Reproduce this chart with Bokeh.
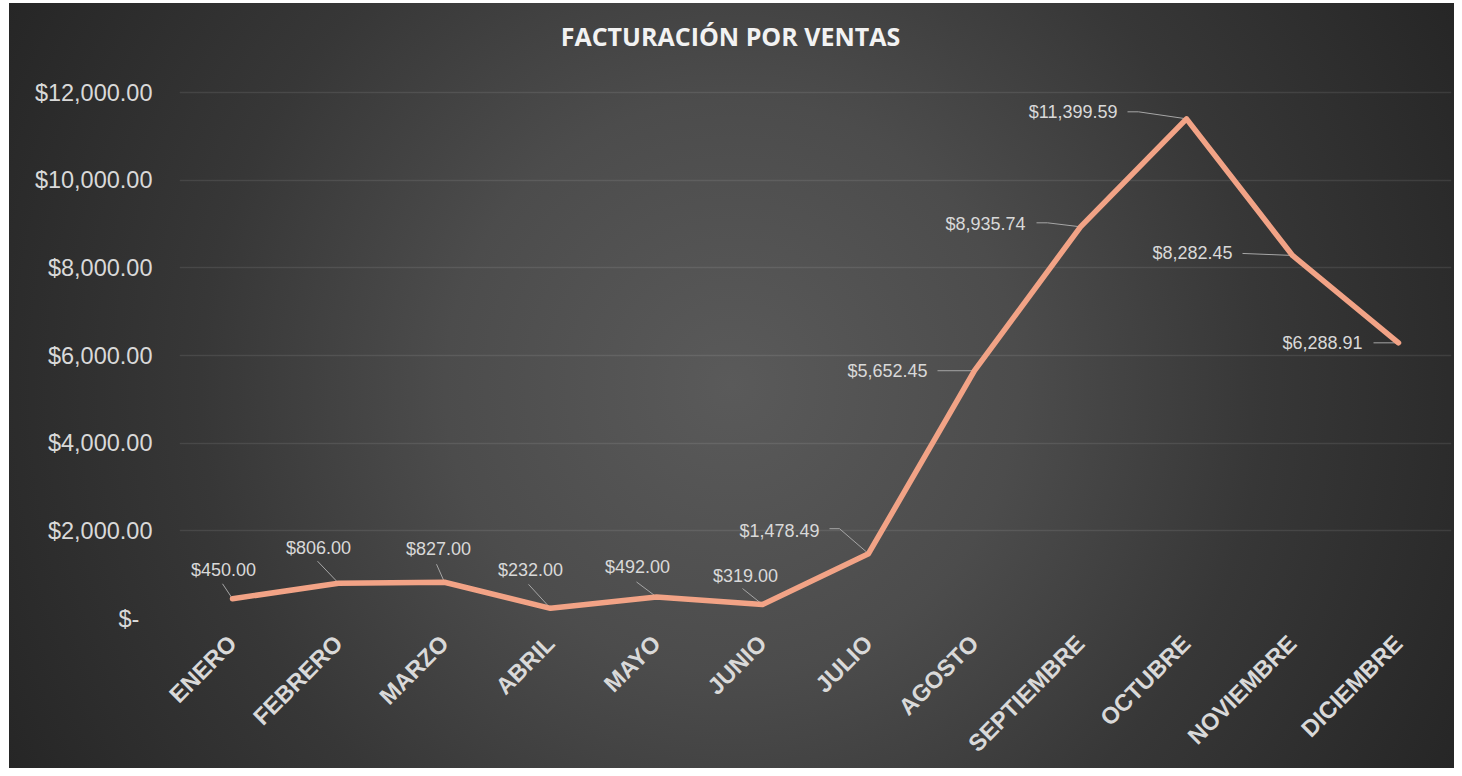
import numpy as np
from bokeh.plotting import figure
from bokeh.models import Range1d, FixedTicker, ColumnDataSource, Label
from bokeh.embed import file_html
from bokeh.resources import INLINE
from bokeh.core.properties import value

# ---------------- data ----------------
months = ["ENERO", "FEBRERO", "MARZO", "ABRIL", "MAYO", "JUNIO", "JULIO",
          "AGOSTO", "SEPTIEMBRE", "OCTUBRE", "NOVIEMBRE", "DICIEMBRE"]
sales = [450.00, 806.00, 827.00, 232.00, 492.00, 319.00, 1478.49,
         5652.45, 8935.74, 11399.59, 8282.45, 6288.91]
value_labels = ["$450.00", "$806.00", "$827.00", "$232.00", "$492.00", "$319.00",
                "$1,478.49", "$5,652.45", "$8,935.74", "$11,399.59", "$8,282.45", "$6,288.91"]
y_ticks = [0, 2000, 4000, 6000, 8000, 10000, 12000]
y_tick_labels = ["$-\u00a0\u00a0", "$2,000.00", "$4,000.00", "$6,000.00",
                 "$8,000.00", "$10,000.00", "$12,000.00"]
title_text = "FACTURACIÓN POR VENTAS"

# ---------------- label placement (screen px, relative to the point) ----------------
label_dx = [-9, -20, -6, -20, -19, -17, -49, -47, -55, -69, -60, -36]
label_dy = [-29, -35, -33, -38, -30, -29, -23, 0, -3, -7, -2, 0]
label_align = ["center"] * 6 + ["right"] * 6
leader_dx = [[-10, 0], [-21, 0], [-8, 0], [-22, 0], [-20, 0], [-20, 0],
             [-39, -29, 0], [-37, 0], [-44, -33, 0], [-59, -48, 0], [-50, 0], [-25, 0]]
leader_dy = [[-15, 0], [-22, 0], [-18, 0], [-24, 0], [-15, 0], [-16, 0],
             [-25, -25, 0], [0, 0], [-4, -4, 0], [-7, -7, 0], [-2, 0], [0, 0]]

# ---------------- layout ----------------
W, H = 1454, 768
LEFT, RIGHT, TOP, BOTTOM = 179, 3, 3, 150
PLOT_TOP = 92                     # pixel row of the 12,000 gridline
FW, FH = W - LEFT - RIGHT, H - TOP - BOTTOM
YMAX = 12000.0
n = len(months)
px_x = FW / n
px_y = (H - BOTTOM - PLOT_TOP) / YMAX
Y_VIEW = FH / px_y                # frame extends above 12,000 to hold the title

TXT = "#d9d9d9"

p = figure(width=W, height=H, output_backend="svg", toolbar_location=None,
           x_range=Range1d(-0.5, n - 0.5), y_range=Range1d(0, Y_VIEW),
           min_border_left=LEFT, min_border_right=RIGHT,
           min_border_top=TOP, min_border_bottom=BOTTOM)

p.styles = {
    "background-image":
        "radial-gradient(circle at 50% 50%, #5a5a5a 0%, #4c4c4c 35%, #373737 65%, #262626 100%)",
    "background-repeat": "no-repeat",
    "background-position": "9px 3px",
    "background-size": "1445px 765px",
}
p.background_fill_alpha = 0
p.border_fill_alpha = 0
p.outline_line_color = None

# title (screen-positioned label inside the frame area)
title = Label(x=551, y=583, x_units="screen", y_units="screen", text=title_text,
              text_align="center", text_baseline="middle",
              text_font="Open Sans", text_font_style="bold", text_font_size="25px",
              text_color="#f2f2f2")
p.add_layout(title)

# axes
p.xaxis.ticker = FixedTicker(ticks=list(range(n)))
p.xaxis.major_label_overrides = {i: m for i, m in enumerate(months)}
p.xaxis.major_label_orientation = np.pi / 4
p.xaxis.major_label_text_font = "Liberation Sans"
p.xaxis.major_label_text_font_style = "bold"
p.xaxis.major_label_text_font_size = "23.5px"
p.xaxis.major_label_text_color = TXT
p.xaxis.major_label_standoff = 21

p.yaxis.ticker = FixedTicker(ticks=y_ticks)
p.yaxis.major_label_overrides = {t: l for t, l in zip(y_ticks, y_tick_labels)}
p.yaxis.major_label_text_font = "Liberation Sans"
p.yaxis.major_label_text_font_size = "23.5px"
p.yaxis.major_label_text_color = TXT
p.yaxis.major_label_standoff = 27

for ax in (p.xaxis, p.yaxis):
    ax.axis_line_color = None
    ax.major_tick_line_color = None
    ax.minor_tick_line_color = None
    ax.major_tick_out = 0
    ax.major_tick_in = 0
    ax.minor_tick_out = 0

p.xgrid.grid_line_color = None
p.ygrid.grid_line_color = "#ffffff"
p.ygrid.grid_line_alpha = 0.09
p.ygrid.grid_line_width = 1.5

# leader lines (converted from px offsets to data units)
xs = [[i + d / px_x for d in leader_dx[i]] for i in range(n)]
ys = [[sales[i] - d / px_y for d in leader_dy[i]] for i in range(n)]
p.multi_line(xs, ys, line_color="#a6a6a6", line_width=1)

# series line
x = list(range(n))
p.line(x, sales, line_color="#F2A386", line_width=5.5, line_join="round", line_cap="round")

# value labels
src = ColumnDataSource(dict(x=x, y=sales, t=value_labels, dx=label_dx, dy=label_dy, al=label_align))
p.text(x="x", y="y", text="t", x_offset="dx", y_offset="dy", text_align="al",
       text_baseline="middle", text_font=value("Liberation Sans"),
       text_font_size="18px", text_color=TXT, source=src)

open("out.html", "w").write(file_html(p, INLINE))
